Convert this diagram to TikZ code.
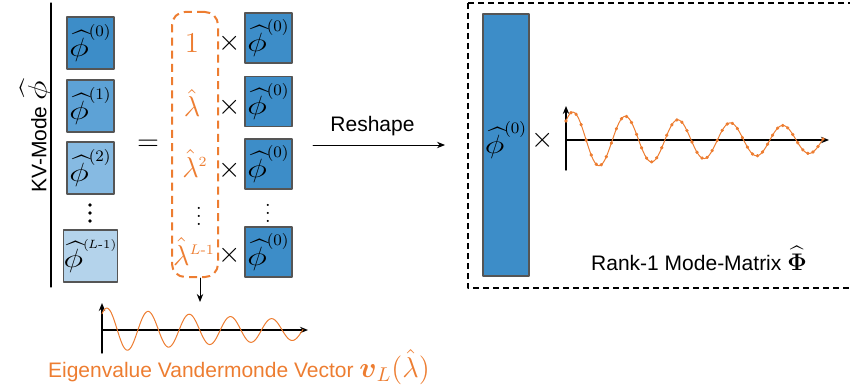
\documentclass[tikz,border=0pt]{standalone}
\usepackage{amsmath}
\usepackage{graphicx}
\usepackage[no-math]{fontspec}
\setsansfont{Liberation Sans}
\usepackage{tikz}
\usetikzlibrary{arrows.meta}

\definecolor{modeblue}{RGB}{61,141,200}
\definecolor{modeblueb}{RGB}{93,162,214}
\definecolor{modebluec}{RGB}{134,186,226}
\definecolor{modeblued}{RGB}{180,211,235}
\definecolor{boxgray}{RGB}{85,85,85}
\definecolor{vorange}{RGB}{237,125,49}

\newcommand{\hphi}{\scalebox{1.4}[1.1]{$\widehat{\phi}$}}
\newcommand{\modephi}[1]{\large$\hphi^{(#1)}$}

\begin{document}
\begin{tikzpicture}[line cap=round,line join=round,>={Stealth[length=4pt,width=3.2pt]},x=0.5pt,y=-0.5pt,
  modebox/.style={draw=boxgray,line width=0.7pt,minimum width=23.5pt,minimum height=26pt,inner sep=0pt,fill=modeblue},
  rightbox/.style={modebox,minimum height=25pt},
  lbl/.style={font=\sffamily\fontsize{10.5}{12}\selectfont,inner sep=0pt},
  lam/.style={text=vorange,font=\Large,inner sep=0pt},
  times/.style={font=\Large,inner sep=0pt},
  axis/.style={line width=0.7pt,->},
  wave/.style={vorange,line width=0.5pt}]
\clip (0,0) rectangle (850,390);
% KV-mode column
\draw [line width=0.65pt] (51,3)-- (51,287);
\node[lbl,rotate=90] (kvlbl) at (36,137) {KV-Mode \large$\hphi$};
\node[modebox] (phia) at (90.5,43) {\modephi{0}};
\node[modebox,fill=modeblueb] (phib) at (90.5,106) {\modephi{1}};
\node[modebox,fill=modebluec] (phic) at (90.5,168) {\modephi{2}};
\node[modebox,fill=modeblued] (phid) at (90.5,256) {\large$\hphi^{\scriptscriptstyle(\mkern-1mu L\text{-}1)}$};
\foreach \y in {205,213,221}
  \fill (90,\y) circle (1.8);
\node[times] (eq) at (148,145) {$=$};
% eigenvalue powers
\node[draw=vorange,line width=1pt,dash pattern=on 4pt off 2.6pt,line cap=butt,rounded corners=6.5pt,
  minimum width=23pt,minimum height=132.5pt] (lamcol) at (195,144.5) {};
\node[lam] (lama) at (192,43) {$1$};
\node[lam,anchor=base] (lamb) at (192,117) {$\hat{\lambda}$};
\node[lam,anchor=base] (lamc) at (195,177) {$\hat{\lambda}^{\scriptscriptstyle 2}$};
\node[inner sep=0pt] (lamdots) at (199,210) {$\vdots$};
\node[lam,anchor=base] (lamd) at (194,265) {$\hat{\lambda}^{\scriptscriptstyle L\text{-}1}$};
\node[times] (xa) at (230,43) {$\times$};
\node[times] (xb) at (230,107) {$\times$};
\node[times] (xc) at (230,170) {$\times$};
\node[times] (xd) at (230,255) {$\times$};
\node[rightbox] (rpa) at (268.5,38) {\modephi{0}};
\node[rightbox] (rpb) at (268.5,101.5) {\modephi{0}};
\node[rightbox] (rpc) at (268.5,164) {\modephi{0}};
\node[inner sep=0pt] (rpdots) at (268,207) {$\vdots$};
\node[rightbox] (rpd) at (268.5,252) {\modephi{0}};
% Vandermonde vector
\coordinate (vtop) at (200,302);
\draw [->,line width=0.5pt] (lamcol.south -| vtop) -- (vtop);
\coordinate (vo) at (102,330);
\draw [axis] (102,353) -- (102,303);
\draw [axis] (vo) -- (308,330);
\draw [wave] plot[domain=0:201,samples=160,smooth] ({102+\x},{330-22.4*exp(-0.004*\x)*cos((\x-5)*8.738)});
\node[lbl,text=vorange,anchor=base] (vlbl) at (239,377) {Eigenvalue Vandermonde Vector \Large$\boldsymbol{v}_{L}(\hat{\lambda})$};
% reshape
\coordinate (rsa) at (313,145);
\coordinate (rsb) at (445,145);
\draw [->,line width=0.5pt] (rsa) -- (rsb);
\node[lbl,anchor=base] (rslbl) at (372.5,132) {Reshape};
% rank-1 mode matrix
\draw [line width=0.6pt,dash pattern=on 3pt off 2pt,line cap=butt] (468,3) rectangle (856,288);
\node[modebox,minimum width=23pt,minimum height=131pt] (bar) at (506,145) {};
\node[inner sep=0pt] (barlbl) at (506,140) {\modephi{0}};
\node[times] (xe) at (543,140) {$\times$};
\coordinate (mo) at (566,140);
\draw [axis] (566,170) -- (566,106);
\draw [axis] (mo) -- (829,140);
\draw [wave] plot[domain=0:257,samples=200,smooth] ({566+\x},{140-28.5*exp(-0.0031*\x)*cos((\x-7)*6.857)});
\fill [vorange] plot[domain=0:257,samples=52,only marks,mark=*,mark size=0.65pt] ({566+\x},{140-28.5*exp(-0.0031*\x)*cos((\x-7)*6.857)});
\node[lbl,anchor=base] (mmlbl) at (699,270) {Rank-1 Mode-Matrix \large$\widehat{\mathbf{\Phi}}$};
\end{tikzpicture}
\end{document}
